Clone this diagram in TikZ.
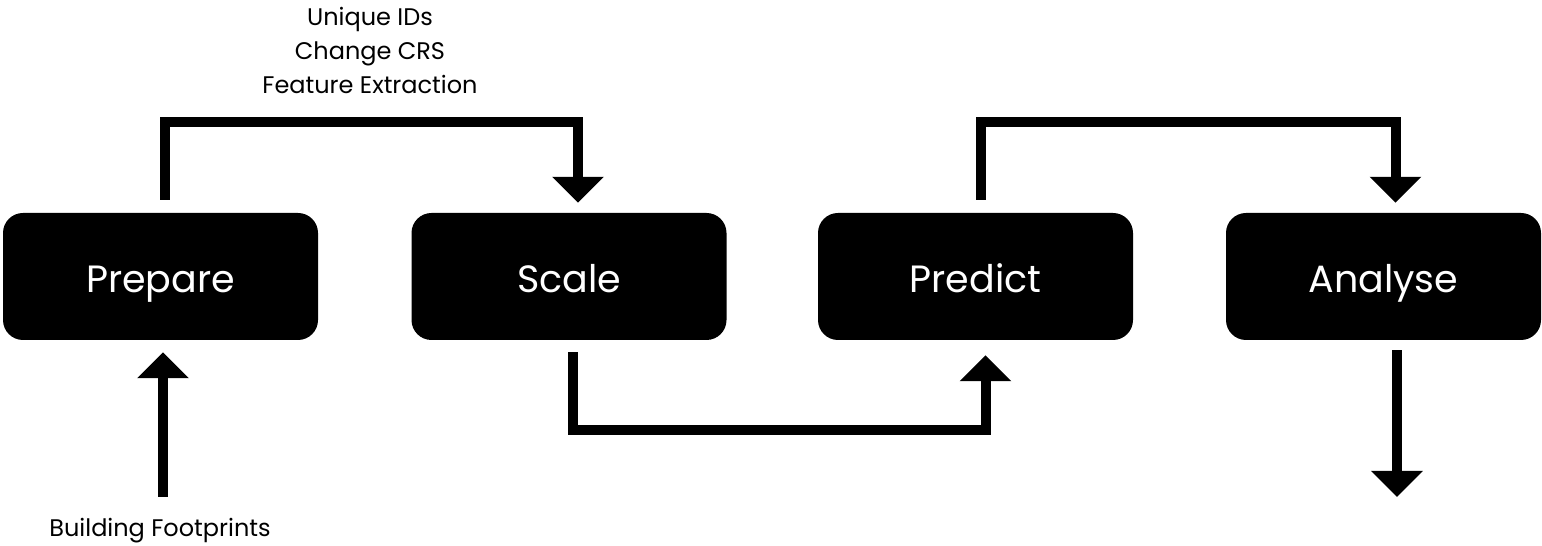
\documentclass[tikz,border=0pt]{standalone}
\usepackage{fontspec}
\setmainfont{Poppins}
\usetikzlibrary{arrows.meta}
\begin{document}
\begin{tikzpicture}[x=1pt,y=1pt,
  stage/.style={fill=black,text=white,rounded corners=20pt,minimum width=315pt,minimum height=127pt,inner sep=0pt,text height=33pt,text depth=0pt,font=\fontsize{38}{44}\selectfont},
  conn/.style={line width=10pt,-{Triangle[width=50pt,length=26pt]}},
  lbl/.style={font=\fontsize{24}{34}\selectfont,align=center,inner sep=0pt}]
\useasboundingbox (0,0) rectangle (1542,546);
\node[stage] (prep) at (160.5,269.5) {Prepare};
\node[stage] (scale) at (569,269.5) {Scale};
\node[stage] (pred) at (975.5,269.5) {Predict};
\node[stage] (anal) at (1383.5,269.5) {Analyse};
\draw[conn] ([xshift=4pt,yshift=13pt]prep.north) -- ([xshift=4pt,yshift=91pt]prep.north) -| ([xshift=9pt,yshift=10pt]scale.north);
\draw[conn] ([xshift=4pt,yshift=-12pt]scale.south) -- ([xshift=4pt,yshift=-90pt]scale.south) -| ([xshift=10pt,yshift=-15pt]pred.south);
\draw[conn] ([xshift=5pt,yshift=13pt]pred.north) -- ([xshift=5pt,yshift=91pt]pred.north) -| ([xshift=12pt,yshift=10pt]anal.north);
\coordinate (out) at (1397,49);
\draw[conn] ([yshift=-10pt]anal.south -| out) -- (out);
\node[lbl] (feat) at (370,496) {Unique IDs\\Change CRS\\Feature Extraction};
\node[lbl] (bf) at (160,15) {Building Footprints};
\coordinate (in) at (163,49);
\draw[conn] (in) -- ([yshift=-12pt]prep.south -| in);
\end{tikzpicture}
\end{document}
